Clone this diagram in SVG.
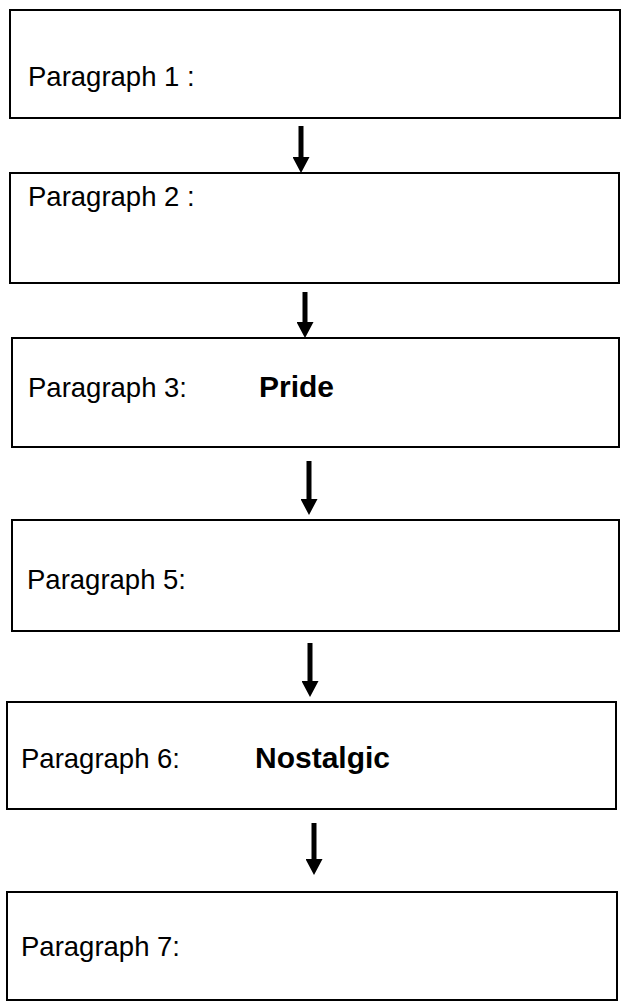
<svg xmlns="http://www.w3.org/2000/svg" width="621" height="1001" viewBox="0 0 621 1001">
<style>
.box{fill:#fff;stroke:#000;stroke-width:2}
.t{font-family:"Liberation Sans",Arial,sans-serif;font-size:27.5px;fill:#000}
.b{font-weight:bold;font-size:30px}
.c{stroke:#000;stroke-width:5;fill:none}
</style>
<defs>
<marker id="ah" markerWidth="16" markerHeight="17" refX="0" refY="8.5" orient="auto" markerUnits="userSpaceOnUse">
<path d="M0,0 L16,8.5 L0,17 z" fill="#000"/>
</marker>
</defs>
<rect width="621" height="1001" fill="#fff"/>
<g id="p1"><rect class="box" x="10" y="10" width="610" height="108"/><text class="t" x="28" y="86">Paragraph 1  :</text></g>
<g id="p2"><rect class="box" x="10" y="173" width="609" height="110"/><text class="t" x="28" y="206">Paragraph 2 :</text></g>
<g id="p3"><rect class="box" x="12" y="338" width="607" height="109"/><text class="t" x="28" y="397">Paragraph 3:</text><text class="t b" x="259" y="397">Pride</text></g>
<g id="p5"><rect class="box" x="12" y="520" width="607" height="111"/><text class="t" x="27" y="589">Paragraph 5:</text></g>
<g id="p6"><rect class="box" x="7" y="702" width="609" height="107"/><text class="t" x="21" y="768">Paragraph 6:</text><text class="t b" x="255" y="768">Nostalgic</text></g>
<g id="p7"><rect class="box" x="7" y="892" width="610" height="108"/><text class="t" x="21" y="956">Paragraph 7:</text></g>
<g id="connectors">
<line class="c" x1="301" y1="126" x2="301" y2="157" marker-end="url(#ah)"/>
<line class="c" x1="305" y1="292" x2="305" y2="322" marker-end="url(#ah)"/>
<line class="c" x1="309" y1="461" x2="309" y2="499" marker-end="url(#ah)"/>
<line class="c" x1="310" y1="643" x2="310" y2="681" marker-end="url(#ah)"/>
<line class="c" x1="314" y1="823" x2="314" y2="859" marker-end="url(#ah)"/>
</g>
</svg>
